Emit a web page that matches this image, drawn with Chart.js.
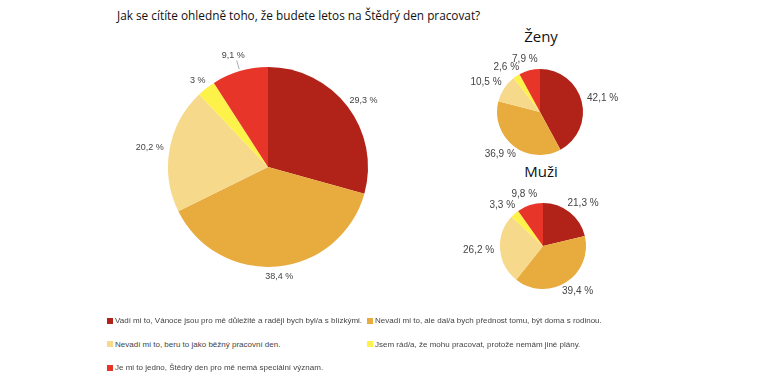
<!DOCTYPE html>
<html lang="cs">
<head>
<meta charset="utf-8">
<script src="https://cdn.jsdelivr.net/npm/chart.js@4/dist/chart.umd.min.js"></script>
<style>
    body { margin: 0; width: 770px; height: 391px; background: #fff; font-family: "Open Sans", sans-serif; position: relative; overflow: hidden; }
    .box { position: absolute; }
    .nadpis { position: absolute; left: 117px; top: 7px; font-size: 11.8px; color: #111; white-space: nowrap; }
    .pod { position: absolute; font-size: 15px; color: #111; transform: translateX(-50%); }
    .legenda { position: absolute; left: 107px; top: 316px; font-family: "Liberation Sans", sans-serif; font-size: 8px; color: #444; }
    .leg-item { position: absolute; white-space: nowrap; display: flex; align-items: center; }
    .leg-item span.kotva { width: 6px; height: 6px; margin-right: 2px; display: inline-block; }
</style>
</head>
<body>
<div class="nadpis">Jak se cítíte ohledně toho, že budete letos na Štědrý den pracovat?</div>
<div class="pod" style="left:541px; top:26px;">Ženy</div>
<div class="pod" style="left:541px; top:161px;">Muži</div>

<div class="box" style="left:118px; top:17px; width:300px; height:300px;"><canvas id="grafCelkem"></canvas></div>
<div class="box" style="left:440px; top:32px; width:200px; height:160px;"><canvas id="grafZeny"></canvas></div>
<div class="box" style="left:443px; top:166px; width:200px; height:160px;"><canvas id="grafMuzi"></canvas></div>

<div class="legenda" id="legenda"></div>

<script>
// kategorie odpovědí
const kategorie = [
    'Vadí mi to, Vánoce jsou pro mě důležité a raději bych byl/a s blízkými.',
    'Nevadí mi to, ale dal/a bych přednost tomu, být doma s rodinou.',
    'Nevadí mi to, beru to jako běžný pracovní den.',
    'Jsem rád/a, že mohu pracovat, protože nemám jiné plány.',
    'Je mi to jedno, Štědrý den pro mě nemá speciální význam.'
];
// hodnoty v procentech
const celkem = [29.3, 38.4, 20.2, 3, 9.1];
const zeny = [42.1, 36.9, 10.5, 2.6, 7.9];
const muzi = [21.3, 39.4, 26.2, 3.3, 9.8];
const barvy = ['#B12318', '#E8AB3D', '#F6D98B', '#FDF24A', '#E8352A'];

// popisky mimo výseče
const popiskyVen = {
    id: 'popiskyVen',
    afterDatasetsDraw(chart, args, opts) {
        const ctx = chart.ctx;
        const meta = chart.getDatasetMeta(0);
        const data = chart.data.datasets[0].data;
        ctx.save();
        ctx.font = opts.size + 'px "Liberation Sans", sans-serif';
        ctx.fillStyle = '#444';
        ctx.textAlign = 'center';
        ctx.textBaseline = 'middle';
        meta.data.forEach((arc, i) => {
            const p = arc.getProps(['x', 'y', 'startAngle', 'endAngle', 'outerRadius'], true);
            const uhel = (p.startAngle + p.endAngle) / 2;
            const cos = Math.cos(uhel), sin = Math.sin(uhel);
            const text = String(data[i]).replace('.', ',') + ' %';
            const w = ctx.measureText(text).width;
            const h = opts.size;
            const extra = (opts.extra && opts.extra[i]) || 0;
            const r = p.outerRadius + opts.pad + extra;
            const x = p.x + cos * r + cos * w / 2;
            const y = p.y + sin * r + sin * h / 2;
            if (extra > 0) {
                ctx.strokeStyle = '#888';
                ctx.lineWidth = 0.7;
                ctx.beginPath();
                ctx.moveTo(p.x + cos * (p.outerRadius + 2), p.y + sin * (p.outerRadius + 2));
                ctx.lineTo(p.x + cos * (r - 1), p.y + sin * (r - 1));
                ctx.stroke();
            }
            ctx.fillText(text, x, y);
        });
        ctx.restore();
    }
};

const kresliGraf = (canvasId, hodnoty, padding, popisky) => {
    new Chart(document.getElementById(canvasId), {
        type: 'pie',
        data: {
            labels: kategorie,
            datasets: [{ data: hodnoty, backgroundColor: barvy, borderWidth: 0 }]
        },
        options: {
            responsive: true,
            maintainAspectRatio: false,
            animation: false,
            layout: { padding: padding },
            plugins: {
                legend: { display: false },
                tooltip: { enabled: false },
                popiskyVen: popisky
            }
        },
        plugins: [popiskyVen]
    });
};

const malyOkraj = { left: 57, right: 57, top: 37, bottom: 37 };
kresliGraf('grafCelkem', celkem, 50, { size: 9, pad: 6, extra: [0, 0, 0, 0, 6] });
kresliGraf('grafZeny', zeny, malyOkraj, { size: 10, pad: 6, extra: [] });
kresliGraf('grafMuzi', muzi, malyOkraj, { size: 10, pad: 6, extra: [] });

// legenda ve dvou sloupcích
const legenda = document.getElementById('legenda');
kategorie.forEach((k, i) => {
    const sloupec = i % 2, radek = Math.floor(i / 2);
    const el = document.createElement('div');
    el.className = 'leg-item';
    el.style.left = (sloupec * 260) + 'px';
    el.style.top = (radek * 23.5) + 'px';
    el.innerHTML = `<span class="kotva" style="background:${barvy[i]}"></span>${k}`;
    legenda.appendChild(el);
});
</script>
</body>
</html>
